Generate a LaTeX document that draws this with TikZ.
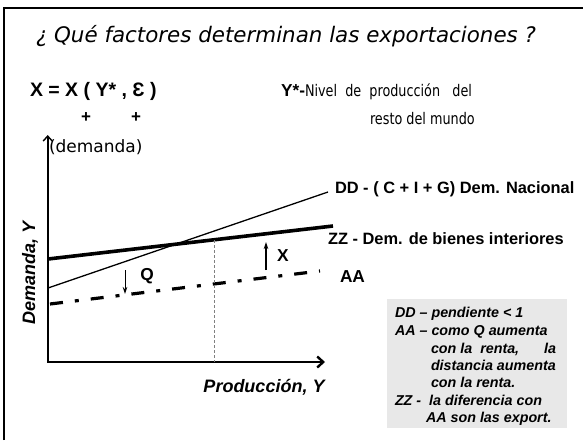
\documentclass[tikz,border=0pt]{standalone}
\usepackage{fontspec}
\setmainfont{Liberation Sans}
\newfontfamily\comicfont[FakeStretch=0.8]{DejaVu Sans}
\newfontfamily\titlefont{DejaVu Sans}
\usetikzlibrary{arrows.meta}

\begin{document}
\begin{tikzpicture}[x=1pt,y=-1pt,
    every node/.style={inner sep=0pt, outer sep=0pt},
    curvelbl/.style={anchor=west, font=\fontsize{16.4}{19}\selectfont\bfseries},
    axislbl/.style={font=\fontsize{18}{21}\selectfont\bfseries\itshape},
    boxtxt/.style={anchor=base west, font=\fontsize{14.3}{17}\selectfont\bfseries\itshape},
    comictxt/.style={anchor=base west, font=\comicfont\fontsize{16}{19}\selectfont},
    deltaarrow/.style={-{Stealth[length=7pt,width=4.5pt]}}]
        \useasboundingbox (0,0) rectangle (583,440);

        % slide frame
        \coordinate (F1) at (4,440);
        \coordinate (F2) at (4,8);
        \coordinate (F3) at (583,8);
        \draw[line width=2.5pt] (F1) -- (F2) -- (F3);

        \node[anchor=base west, font=\titlefont\itshape\fontsize{21.4}{24}\selectfont] (T) at (36,42) {¿ Qué factores determinan las exportaciones ?};

        \node[anchor=base west, font=\fontsize{19.5}{22}\selectfont\bfseries] (E) at (30,96) {X = X ( Y* , Ɛ )};
        \node[font=\fontsize{17}{20}\selectfont\bfseries] (S1) at (86,118) {+};
        \node[font=\fontsize{17}{20}\selectfont\bfseries] (S2) at (136,118) {+};
        \node[anchor=base west, font=\fontsize{17.3}{20}\selectfont\bfseries] (YS) at (281,96) {Y*-};
        \node[comictxt] (N1) at (305,96) {Nivel\ \ de\ \ producción\ \ \ del};
        \node[comictxt] (N2) at (370,124) {resto del mundo};
        \node[anchor=west, font=\titlefont\fontsize{17}{20}\selectfont] (DM) at (49,147) {(demanda)};

        % axes
        \coordinate (O) at (47.7,362);
        \coordinate (YT) at (47.7,135);
        \coordinate (XE) at (325,362);
        \draw[line width=2.4pt, {Straight Barb[length=5pt,width=9pt,line width=1.4pt]}-{Straight Barb[length=6pt,width=11pt]}] (YT) -- (O) -- (XE);

        \node[axislbl, rotate=90] (YL) at (30,273) {Demanda, Y};
        \node[axislbl] (XL) at (264,387) {Producción, Y};

        % curves
        \coordinate (D1) at (48,288);
        \coordinate (D2) at (328,192);
        \coordinate (Z1) at (48,259);
        \coordinate (Z2) at (333,226);
        \coordinate (A1) at (50,304);
        \coordinate (A2) at (320,271);
        \draw[line width=1.3pt] (D1) -- (D2);
        \draw[line width=3.6pt] (Z1) -- (Z2);
        \draw[line width=3.2pt, dash pattern=on 13pt off 12pt on 4pt off 12pt] (A1) -- (A2);

        \node[curvelbl] (DD) at (335,189) {DD - ( C + I + G) Dem. Nacional};
        \node[curvelbl] (ZZ) at (328,239) {ZZ - Dem. de bienes interiores};
        \node[curvelbl, font=\fontsize{17.3}{20}\selectfont\bfseries] (AA) at (340,277) {AA};

        \coordinate (V1) at (214,240);
        \coordinate (V2) at (214,362);
        \draw[gray, line width=0.7pt, dash pattern=on 3pt off 2pt] (V1) -- (V2);

        % exports and imports
        \coordinate (Xt) at (266,270);
        \coordinate (Xh) at (266,242);
        \coordinate (Qt) at (125,270);
        \coordinate (Qh) at (125,294);
        \draw[deltaarrow, line width=1.6pt] (Xt) -- (Xh);
        \draw[deltaarrow, line width=1pt] (Qt) -- (Qh);
        \node[font=\fontsize{17.3}{20}\selectfont\bfseries] (XN) at (283,256) {X};
        \node[font=\fontsize{17.3}{20}\selectfont\bfseries] (QN) at (147,276) {Q};

        % note box
        \fill[black!9] (387,299) rectangle (567,428);
        \foreach \n/\xx/\yy/\txt in {1/395/317/{DD – pendiente < 1},
                                     2/395/335/{AA – como Q aumenta},
                                     3/431/353/{\hbox to 125pt{con la\ \ renta,\hfill la}},
                                     4/431/370/{distancia aumenta},
                                     5/431/387/{con la renta.},
                                     6/395/405/{ZZ -\ \ la diferencia con},
                                     7/426/422/{AA son las export.}}
          \node[boxtxt] (B\n) at (\xx,\yy) {\txt};
\end{tikzpicture}
\end{document}
